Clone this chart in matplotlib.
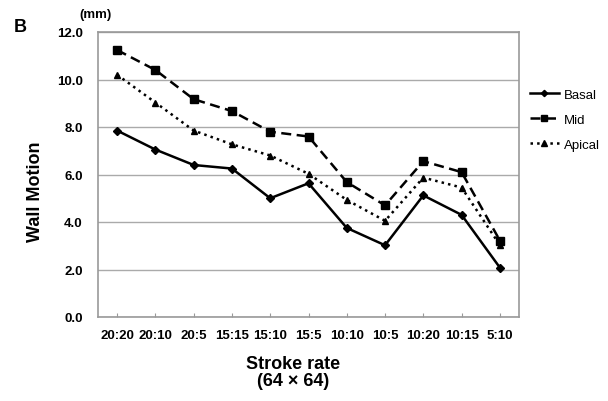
import numpy as np
import matplotlib
matplotlib.use("Agg")
import matplotlib.pyplot as plt

plt.rcParams['font.family'] = ['Liberation Sans', 'DejaVu Sans']
plt.rcParams['font.weight'] = 'bold'

categories = ["20:20", "20:10", "20:5", "15:15", "15:10", "15:5",
              "10:10", "10:5", "10:20", "10:15", "5:10"]
basal = [7.85, 7.05, 6.4, 6.25, 5.0, 5.63, 3.75, 3.02, 5.12, 4.3, 2.08]
mid = [11.24, 10.4, 9.17, 8.67, 7.8, 7.6, 5.68, 4.7, 6.56, 6.1, 3.22]
apical = [10.2, 9.03, 7.85, 7.27, 6.8, 6.03, 4.93, 4.05, 5.87, 5.45, 3.03]
yticks = [0, 2, 4, 6, 8, 10, 12]

fig = plt.figure(figsize=(6.08, 4.02), dpi=100)
ax = fig.add_axes([98/608, 1-318/402, (519-98)/608, (318-33)/402])

x = np.arange(len(categories))
ax.plot(x, basal, "-", color="black", lw=1.8, marker="D", ms=4, label="Basal")
ax.plot(x, mid, "--", color="black", lw=1.8, marker="s", ms=6,
        dashes=(4, 2.2), label="Mid")
ax.plot(x, apical, ":", color="black", lw=1.8, marker="^", ms=5, label="Apical")

ax.set_xlim(-0.5, len(categories) - 0.5)
ax.set_ylim(0, 12)
ax.set_yticks(yticks)
ax.set_yticklabels(["%.1f" % v for v in yticks])
ax.set_xticks(x)
ax.set_xticklabels(categories)
ax.tick_params(axis="x", direction="in", length=3, color="#999999", labelsize=9.5, pad=9)
ax.tick_params(axis="y", length=0, labelsize=9.5, pad=11)
ax.yaxis.grid(True, color="#aaaaaa", lw=1.0)
ax.set_axisbelow(True)
for s in ax.spines.values():
    s.set_color("#999999")
    s.set_linewidth(1.2)

fig.text(35/608, 1-192/402, "Wall Motion", rotation=90, ha="center", va="center",
         fontsize=13, fontweight="bold")
fig.text(293/608, 1-373/402, "Stroke rate\n(64 × 64)", ha="center", va="center",
         fontsize=13, fontweight="bold", linespacing=1.05)
fig.text(95/608, 1-15/402, "(mm)", ha="center", va="center", fontsize=9.5, fontweight="bold")
fig.text(20/608, 1-27/402, "B", ha="center", va="center", fontsize=13, fontweight="bold")

leg = fig.legend(loc="upper left", bbox_to_anchor=(518/608, 1-78/402), frameon=False,
                 handlelength=2.2, fontsize=9.5, labelspacing=0.95, handletextpad=0.4,
                 markerscale=0.8)
for t in leg.get_texts():
    t.set_fontweight("normal")

fig.savefig("out.png", dpi=100)
